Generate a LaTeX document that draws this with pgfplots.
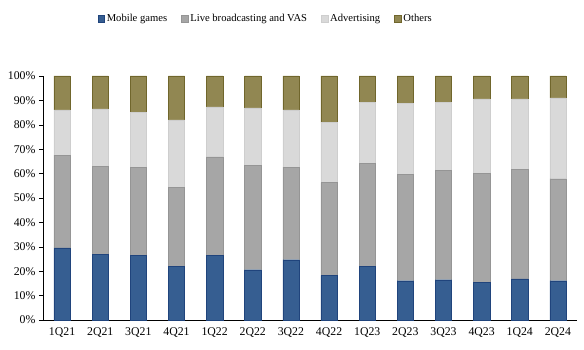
\documentclass[border=0pt]{standalone}
\usepackage{pgfplots}
\pgfplotsset{compat=1.18}
\usepackage{fontspec}
\setmainfont{Liberation Serif}
\definecolor{cblue}{RGB}{54,94,145}
\definecolor{cblueE}{RGB}{32,68,124}
\definecolor{cgray}{RGB}{166,166,166}
\definecolor{clight}{RGB}{217,217,217}
\definecolor{colive}{RGB}{145,135,82}
\definecolor{coliveE}{RGB}{112,102,44}
\begin{document}
\begin{tikzpicture}
\begin{axis}[
  scale only axis,
  width=534pt, height=244pt,
  ybar stacked,
  bar width=16.3pt,
  xmin=-0.5, xmax=13.5,
  ymin=0, ymax=100,
  xtick={0,...,13},
  xticklabels={1Q21,2Q21,3Q21,4Q21,1Q22,2Q22,3Q22,4Q22,1Q23,2Q23,3Q23,4Q23,1Q24,2Q24},
  extra x ticks={-0.5,0.5,1.5,2.5,3.5,4.5,5.5,6.5,7.5,8.5,9.5,10.5,11.5,12.5,13.5},
  extra x tick labels={},
  extra x tick style={major tick length=4pt, tick style={black}},
  x tick style={draw=none},
  ytick={0,10,...,100},
  yticklabel={\pgfmathprintnumber{\tick}\%},
  /pgf/number format/assume math mode=true,
  tick label style={font=\fontsize{11.8}{13}\selectfont},
  y tick style={black},
  tick align=outside,
  major tick length=4pt,
  axis x line*=bottom,
  axis y line*=left,
  axis line style={black, thin},
  legend style={at={(0.417,1.234)}, anchor=center, draw=none, fill=none,
    legend columns=-1, font=\fontsize{10.6}{12}\selectfont,
    /tikz/every even column/.append style={column sep=12pt}},
  legend image code/.code={\draw[#1] (0pt,-3.4pt) rectangle (6.8pt,3.4pt);},
  clip=false,
]
\addplot[fill=cblue, draw=cblueE] coordinates {(0,29.6)(1,26.8)(2,26.4)(3,21.9)(4,26.4)(5,20.6)(6,24.7)(7,18.2)(8,21.9)(9,16.1)(10,16.5)(11,15.3)(12,16.9)(13,16.1)};
\addplot[fill=cgray, draw=cgray!90!black] coordinates {(0,38.0)(1,36.3)(2,36.3)(3,32.6)(4,40.5)(5,42.9)(6,38.0)(7,38.1)(8,42.2)(9,43.5)(10,44.7)(11,44.9)(12,44.7)(13,41.8)};
\addplot[fill=clight, draw=clight!95!black] coordinates {(0,18.5)(1,23.4)(2,22.5)(3,27.5)(4,20.4)(5,23.4)(6,23.4)(7,24.6)(8,25.2)(9,29.3)(10,28.1)(11,30.4)(12,29.0)(13,33.1)};
\addplot[fill=colive, draw=coliveE] coordinates {(0,13.9)(1,13.5)(2,14.8)(3,18.0)(4,12.7)(5,13.1)(6,13.9)(7,19.1)(8,10.7)(9,11.1)(10,10.7)(11,9.4)(12,9.4)(13,9.0)};
\legend{Mobile games, Live broadcasting and VAS, Advertising, Others}
\end{axis}
\pgfresetboundingbox
\path[use as bounding box] (-43pt,-30pt) rectangle (541pt,320pt);
\end{tikzpicture}
\end{document}
